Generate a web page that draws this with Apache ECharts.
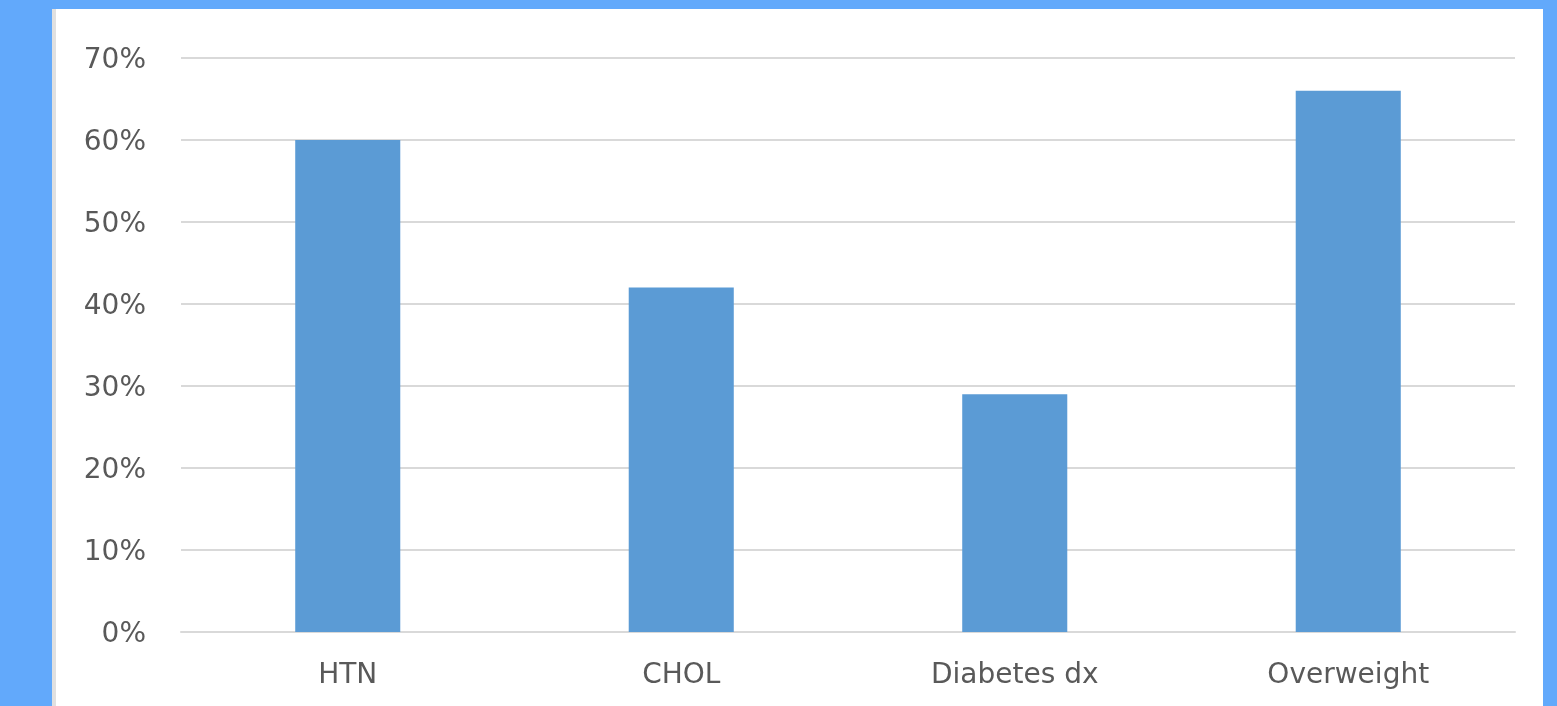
<!DOCTYPE html>
<html>
<head>
<meta charset="utf-8">
<script src="https://cdn.jsdelivr.net/npm/echarts@6/dist/echarts.min.js"></script>
<style>
html, body { margin: 0; padding: 0; background: #62a9fb; }
#panel {
	position: absolute; left: 52px; top: 9px; width: 1491px; height: 697px;
	background: #fff; border-left: 4px solid #e0e0e0; box-sizing: border-box;
}
#chart { width: 100%; height: 100%; }
</style>
</head>
<body>
<div id="panel"><div id="chart"></div></div>
<script>
var categories = ['HTN', 'CHOL', 'Diabetes dx', 'Overweight'];
var values = [60, 42, 29, 66];
var yTicks = [0, 10, 20, 30, 40, 50, 60, 70];

var chart = echarts.init(document.getElementById('chart'));
var option = {
	animation: false,
	grid: {
		left: 125,
		right: 28,
		top: 49,
		bottom: 74
	},
	xAxis: {
		type: 'category',
		data: categories,
		axisLine: { lineStyle: { color: '#d9d9d9', width: 2 } },
		axisTick: { show: false },
		axisLabel: {
			color: '#595959',
			fontSize: 28,
			fontFamily: 'DejaVu Sans',
			margin: 30
		}
	},
	yAxis: {
		type: 'value',
		min: yTicks[0],
		max: yTicks[yTicks.length - 1],
		interval: 10,
		axisLine: { show: false },
		axisTick: { show: false },
		splitLine: { lineStyle: { color: '#d9d9d9', width: 2 } },
		axisLabel: {
			margin: 35,
			formatter: '{p|{value}%}',
			rich: {
				p: {
					color: '#595959',
					fontSize: 28,
					fontFamily: 'DejaVu Sans',
					padding: [6, 0, 0, 0]
				}
			}
		}
	},
	series: [
		{
			type: 'bar',
			data: values,
			barWidth: '31.5%',
			itemStyle: { color: '#5b9bd5' }
		}
	]
};
chart.setOption(option);
</script>
</body>
</html>
